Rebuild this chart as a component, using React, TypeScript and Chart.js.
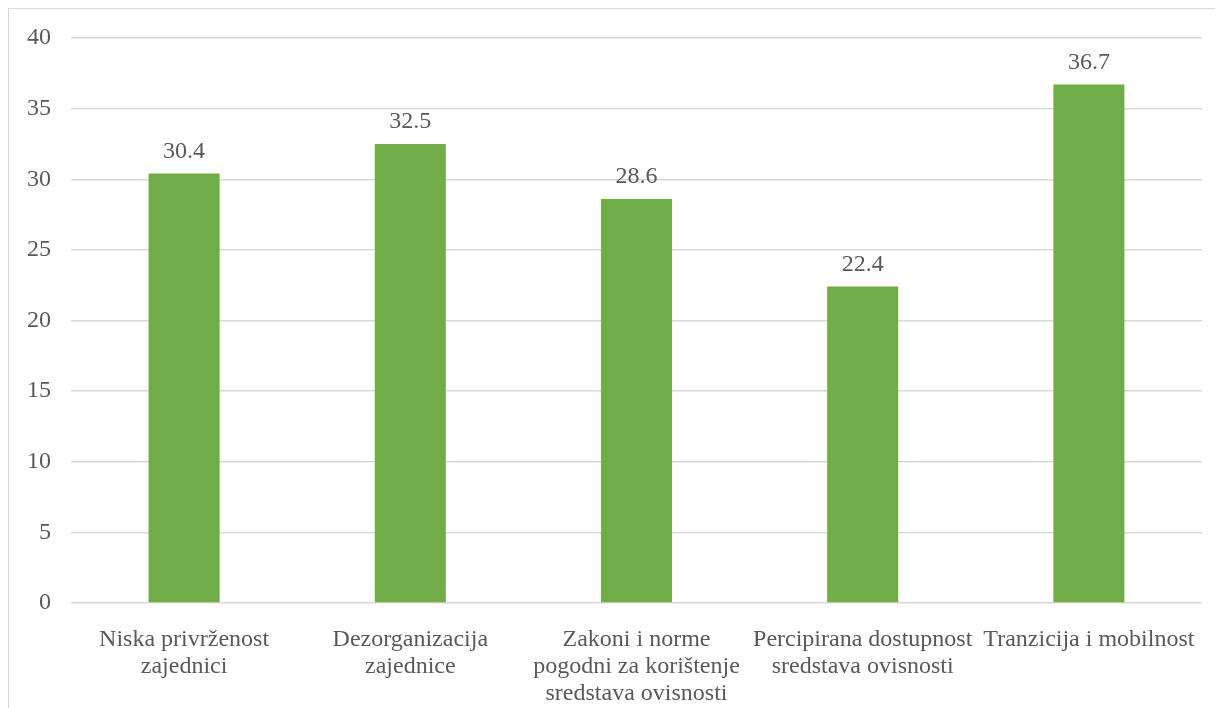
import React, { useEffect, useRef } from "react";
import { Chart, registerables } from "chart.js";

Chart.register(...registerables);

const categories: string[][] = [
  ["Niska privrženost", "zajednici"],
  ["Dezorganizacija", "zajednice"],
  ["Zakoni i norme", "pogodni za korištenje", "sredstava ovisnosti"],
  ["Percipirana dostupnost", "sredstava ovisnosti"],
  ["Tranzicija i mobilnost"],
];
const values: number[] = [30.4, 32.5, 28.6, 22.4, 36.7];
const yTicks = { min: 0, max: 40, step: 5 };

const FONT = "'Liberation Serif', 'Times New Roman', serif";
const TEXT = "#595959";
const GRID = "#d9d9d9";
const BAR = "#70AD47";

const valueLabels = {
  id: "valueLabels",
  afterDatasetsDraw(chart: any) {
    const ctx = chart.ctx;
    const meta = chart.getDatasetMeta(0);
    ctx.save();
    ctx.font = `24px ${FONT}`;
    ctx.fillStyle = TEXT;
    ctx.textAlign = "center";
    ctx.textBaseline = "alphabetic";
    meta.data.forEach((el: any, i: number) => {
      const v = chart.data.datasets[0].data[i] as number;
      ctx.fillText(v.toFixed(1), el.x, el.y - 16);
    });
    ctx.restore();
  },
};

export default function App() {
  const ref = useRef<HTMLCanvasElement | null>(null);
  useEffect(() => {
    document.documentElement.style.overflow = "hidden";
    document.body.style.overflow = "hidden";
    const canvas = ref.current!;
    const chart = new Chart(canvas, {
      type: "bar",
      data: {
        labels: categories,
        datasets: [
          {
            data: values,
            backgroundColor: BAR,
            borderWidth: 0,
            categoryPercentage: 1,
            barPercentage: 0.314,
          },
        ],
      },
      options: {
        animation: false,
        responsive: false,
        layout: { padding: { left: 0, right: 21, top: 29, bottom: 0 } },
        plugins: {
          legend: { display: false },
          tooltip: { enabled: false },
        },
        scales: {
          x: {
            grid: { display: false },
            border: { display: false },
            ticks: {
              color: TEXT,
              font: { family: FONT, size: 24, lineHeight: 1.125 },
              padding: 15,
              autoSkip: false,
              maxRotation: 0,
              minRotation: 0,
            },
            afterFit(scale: any) {
              scale.height = 105;
            },
          },
          y: {
            min: yTicks.min,
            max: yTicks.max,
            grid: { color: GRID, lineWidth: 1.5, drawTicks: false },
            border: { display: false },
            ticks: {
              stepSize: yTicks.step,
              color: TEXT,
              font: { family: FONT, size: 24, lineHeight: 0.5 },
              padding: 20,
            },
            afterFit(scale: any) {
              scale.width = 62;
            },
          },
        },
      },
      plugins: [valueLabels],
    });
    return () => chart.destroy();
  }, []);
  return (
    <div
      style={{
        border: `1px solid ${GRID}`,
        width: 1214,
        height: 699,
        position: "relative",
      }}
    >
      <canvas ref={ref} width={1214} height={699} style={{ display: "block" }} />
    </div>
  );
}
